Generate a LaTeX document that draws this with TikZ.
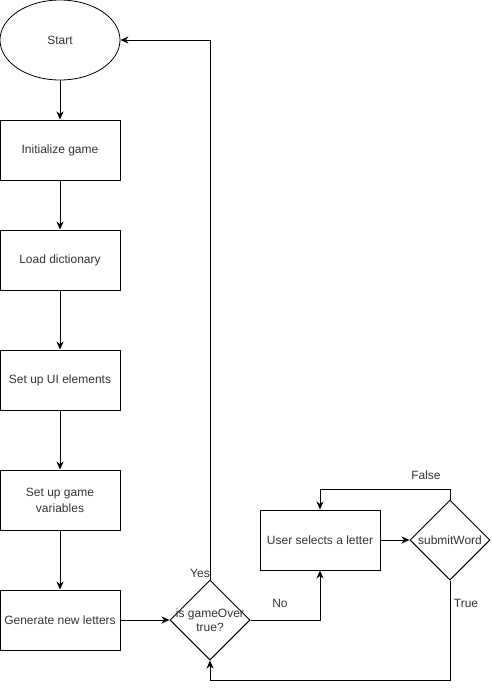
\documentclass[tikz,border=0pt]{standalone}
\usepackage{fontspec}
\setmainfont{Liberation Sans}
\usetikzlibrary{arrows.meta,shapes.geometric}
\begin{document}
\begin{tikzpicture}[x=1pt,y=-1pt,
  every node/.style={font=\fontsize{12}{14}\selectfont, text=black!80},
  proc/.style={draw, line width=1pt, minimum width=120pt, minimum height=60pt, inner sep=0pt, align=center},
  dec/.style={draw, line width=1pt, diamond, minimum width=80pt, minimum height=80pt, inner sep=0pt, aspect=1},
  term/.style={draw, line width=0.8pt, ellipse, minimum width=120pt, minimum height=80pt, inner sep=0pt},
  arr/.style={line width=1pt, -{Stealth[length=8pt,width=7pt,inset=2.5pt]}},
  lbl/.style={inner sep=0pt, align=center}]
\useasboundingbox (0,0) rectangle (491,689);
\node[term] (start) at (60,40) {Start};
\node[proc] (init) at (60,150) {Initialize game};
\node[proc] (dict) at (60,260) {Load dictionary};
\node[proc] (ui) at (60,380) {Set up UI elements};
\node[proc] (vars) at (60,500) {Set up game\\[2pt]variables};
\node[proc] (gen) at (60,620) {Generate new letters};
\node[dec] (over) at (210,620) {};
\node[lbl] (overtxt) at (over.center) {is gameOver\\true?};
\node[proc] (user) at (320,540) {User selects a letter};
\node[dec] (sub) at (450,540) {};
\node[lbl] (subtxt) at (sub.center) {submitWord};
\draw[arr] (start) -- (init);
\draw[arr] (init) -- (dict);
\draw[arr] (dict) -- (ui);
\draw[arr] (ui) -- (vars);
\draw[arr] (vars) -- (gen);
\draw[arr] (gen) -- (over);
\draw[arr] (over.north) |- (start.east);
\draw[arr] (over.east) -| (user.south);
\draw[arr] (user) -- (sub);
\draw[arr] (sub.north) -- ++(0,-10) -| (user.north);
\draw[arr] (sub.south) -- ++(0,100) -| (over.south);
\node[lbl] (yes) at (200,573) {Yes};
\node[lbl] (no) at (280,603) {No};
\node[lbl] (false) at (426,475) {False};
\node[lbl] (true) at (466,603) {True};
\end{tikzpicture}
\end{document}
